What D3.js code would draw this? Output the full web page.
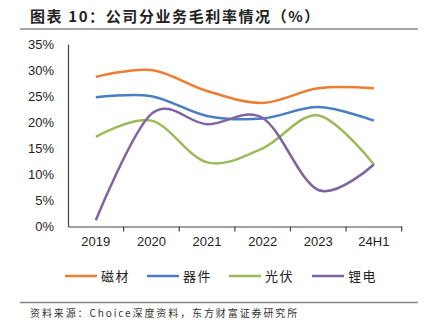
<!DOCTYPE html>
<html lang="zh">
<head>
<meta charset="utf-8">
<title>公司分业务毛利率情况</title>
<script src="https://d3js.org/d3.v7.min.js"></script>
<style>
    body { margin: 0; background: #fff; }
    svg { display: block; }
</style>
</head>
<body>
<div class="chart"></div>
<script>
// data (gross margin, %)
const years = ["2019", "2020", "2021", "2022", "2023", "24H1"];
const ciCai = [28.7, 30.0, 26.0, 23.7, 26.5, 26.5];
const qiJian = [24.8, 25.0, 21.2, 20.7, 22.9, 20.3];
const guangFu = [17.2, 20.3, 12.3, 15.0, 21.3, 11.9];
const liDian = [1.2, 21.6, 19.6, 20.8, 7.0, 11.9];
const yTicks = [0, 5, 10, 15, 20, 25, 30, 35];

const series = [
    {name: "磁材", values: ciCai, color: "#ed7d31"},
    {name: "器件", values: qiJian, color: "#4a7ec4"},
    {name: "光伏", values: guangFu, color: "#9bbb59"},
    {name: "锂电", values: liDian, color: "#8064a2"}
];

const W = 424, H = 333;
const svg = d3.select(".chart").append("svg")
    .attr("width", W).attr("height", H);

const font = "'Liberation Sans', Arial, sans-serif";
const cjk = "'Noto Sans CJK SC', sans-serif";

// title + rules
svg.append("text")
    .attr("x", 30).attr("y", 22)
    .attr("font-family", cjk).attr("font-size", 15).attr("font-weight", "bold")
    .attr("letter-spacing", 1.6)
    .attr("fill", "#222")
    .text("图表 10：公司分业务毛利率情况（%）");
svg.append("line").attr("x1", 20).attr("x2", 418).attr("y1", 29).attr("y2", 29)
    .attr("stroke", "#888").attr("stroke-width", 1.5);
svg.append("line").attr("x1", 20).attr("x2", 418).attr("y1", 302.5).attr("y2", 302.5)
    .attr("stroke", "#888").attr("stroke-width", 1.5);
svg.append("text")
    .attr("x", 30).attr("y", 317)
    .attr("font-family", cjk).attr("font-size", 10)
    .attr("letter-spacing", 1.9)
    .attr("fill", "#333")
    .text("资料来源：Choice深度资料，东方财富证券研究所");

// scales
const x = d3.scaleBand().domain(years).range([68, 401.7]);
const y = d3.scaleLinear().domain([0, 35]).range([226.5, 44]);

const xAxis = d3.axisBottom(x).tickSize(0).tickPadding(10);
const gx = svg.append("g").attr("transform", "translate(0,226.5)").call(xAxis);
gx.select(".domain").attr("stroke", "#444").attr("stroke-width", 1.2);
gx.selectAll("text").attr("font-family", font).attr("font-size", 13).attr("fill", "#222");
// tick marks at band boundaries
const bounds = years.map(d => x(d)).concat([x.range()[1]]);
gx.selectAll(".bnd").data(bounds.slice(1)).enter().append("line")
    .attr("x1", d => d).attr("x2", d => d).attr("y1", 0).attr("y2", 5)
    .attr("stroke", "#444").attr("stroke-width", 1.2);

const yAxis = d3.axisLeft(y).tickValues(yTicks).tickSize(0).tickPadding(14)
    .tickFormat(d => d + "%");
const gy = svg.append("g").attr("transform", "translate(68,0)").call(yAxis);
gy.select(".domain").attr("stroke", "#444").attr("stroke-width", 1.2);
gy.selectAll("text").attr("font-family", font).attr("font-size", 13).attr("fill", "#222");

// lines
const line = d3.line()
    .x((d, i) => x(years[i]) + x.bandwidth() / 2)
    .y(d => y(d))
    .curve(d3.curveCatmullRom.alpha(0));

svg.selectAll(".series").data(series).enter().append("path")
    .attr("d", d => line(d.values))
    .attr("fill", "none")
    .attr("stroke", d => d.color)
    .attr("stroke-width", 2.5);

// legend
const legX = [65, 147, 229, 312];
const leg = svg.selectAll(".leg").data(series).enter().append("g")
    .attr("transform", (d, i) => `translate(${legX[i]},276)`);
leg.append("line").attr("x1", 0).attr("x2", 32).attr("y1", 0).attr("y2", 0)
    .attr("stroke", d => d.color).attr("stroke-width", 2.5);
leg.append("text").attr("x", 36).attr("y", 5)
    .attr("font-family", cjk).attr("font-size", 13).attr("fill", "#222")
    .attr("letter-spacing", 1.5)
    .text(d => d.name);
</script>
</body>
</html>
